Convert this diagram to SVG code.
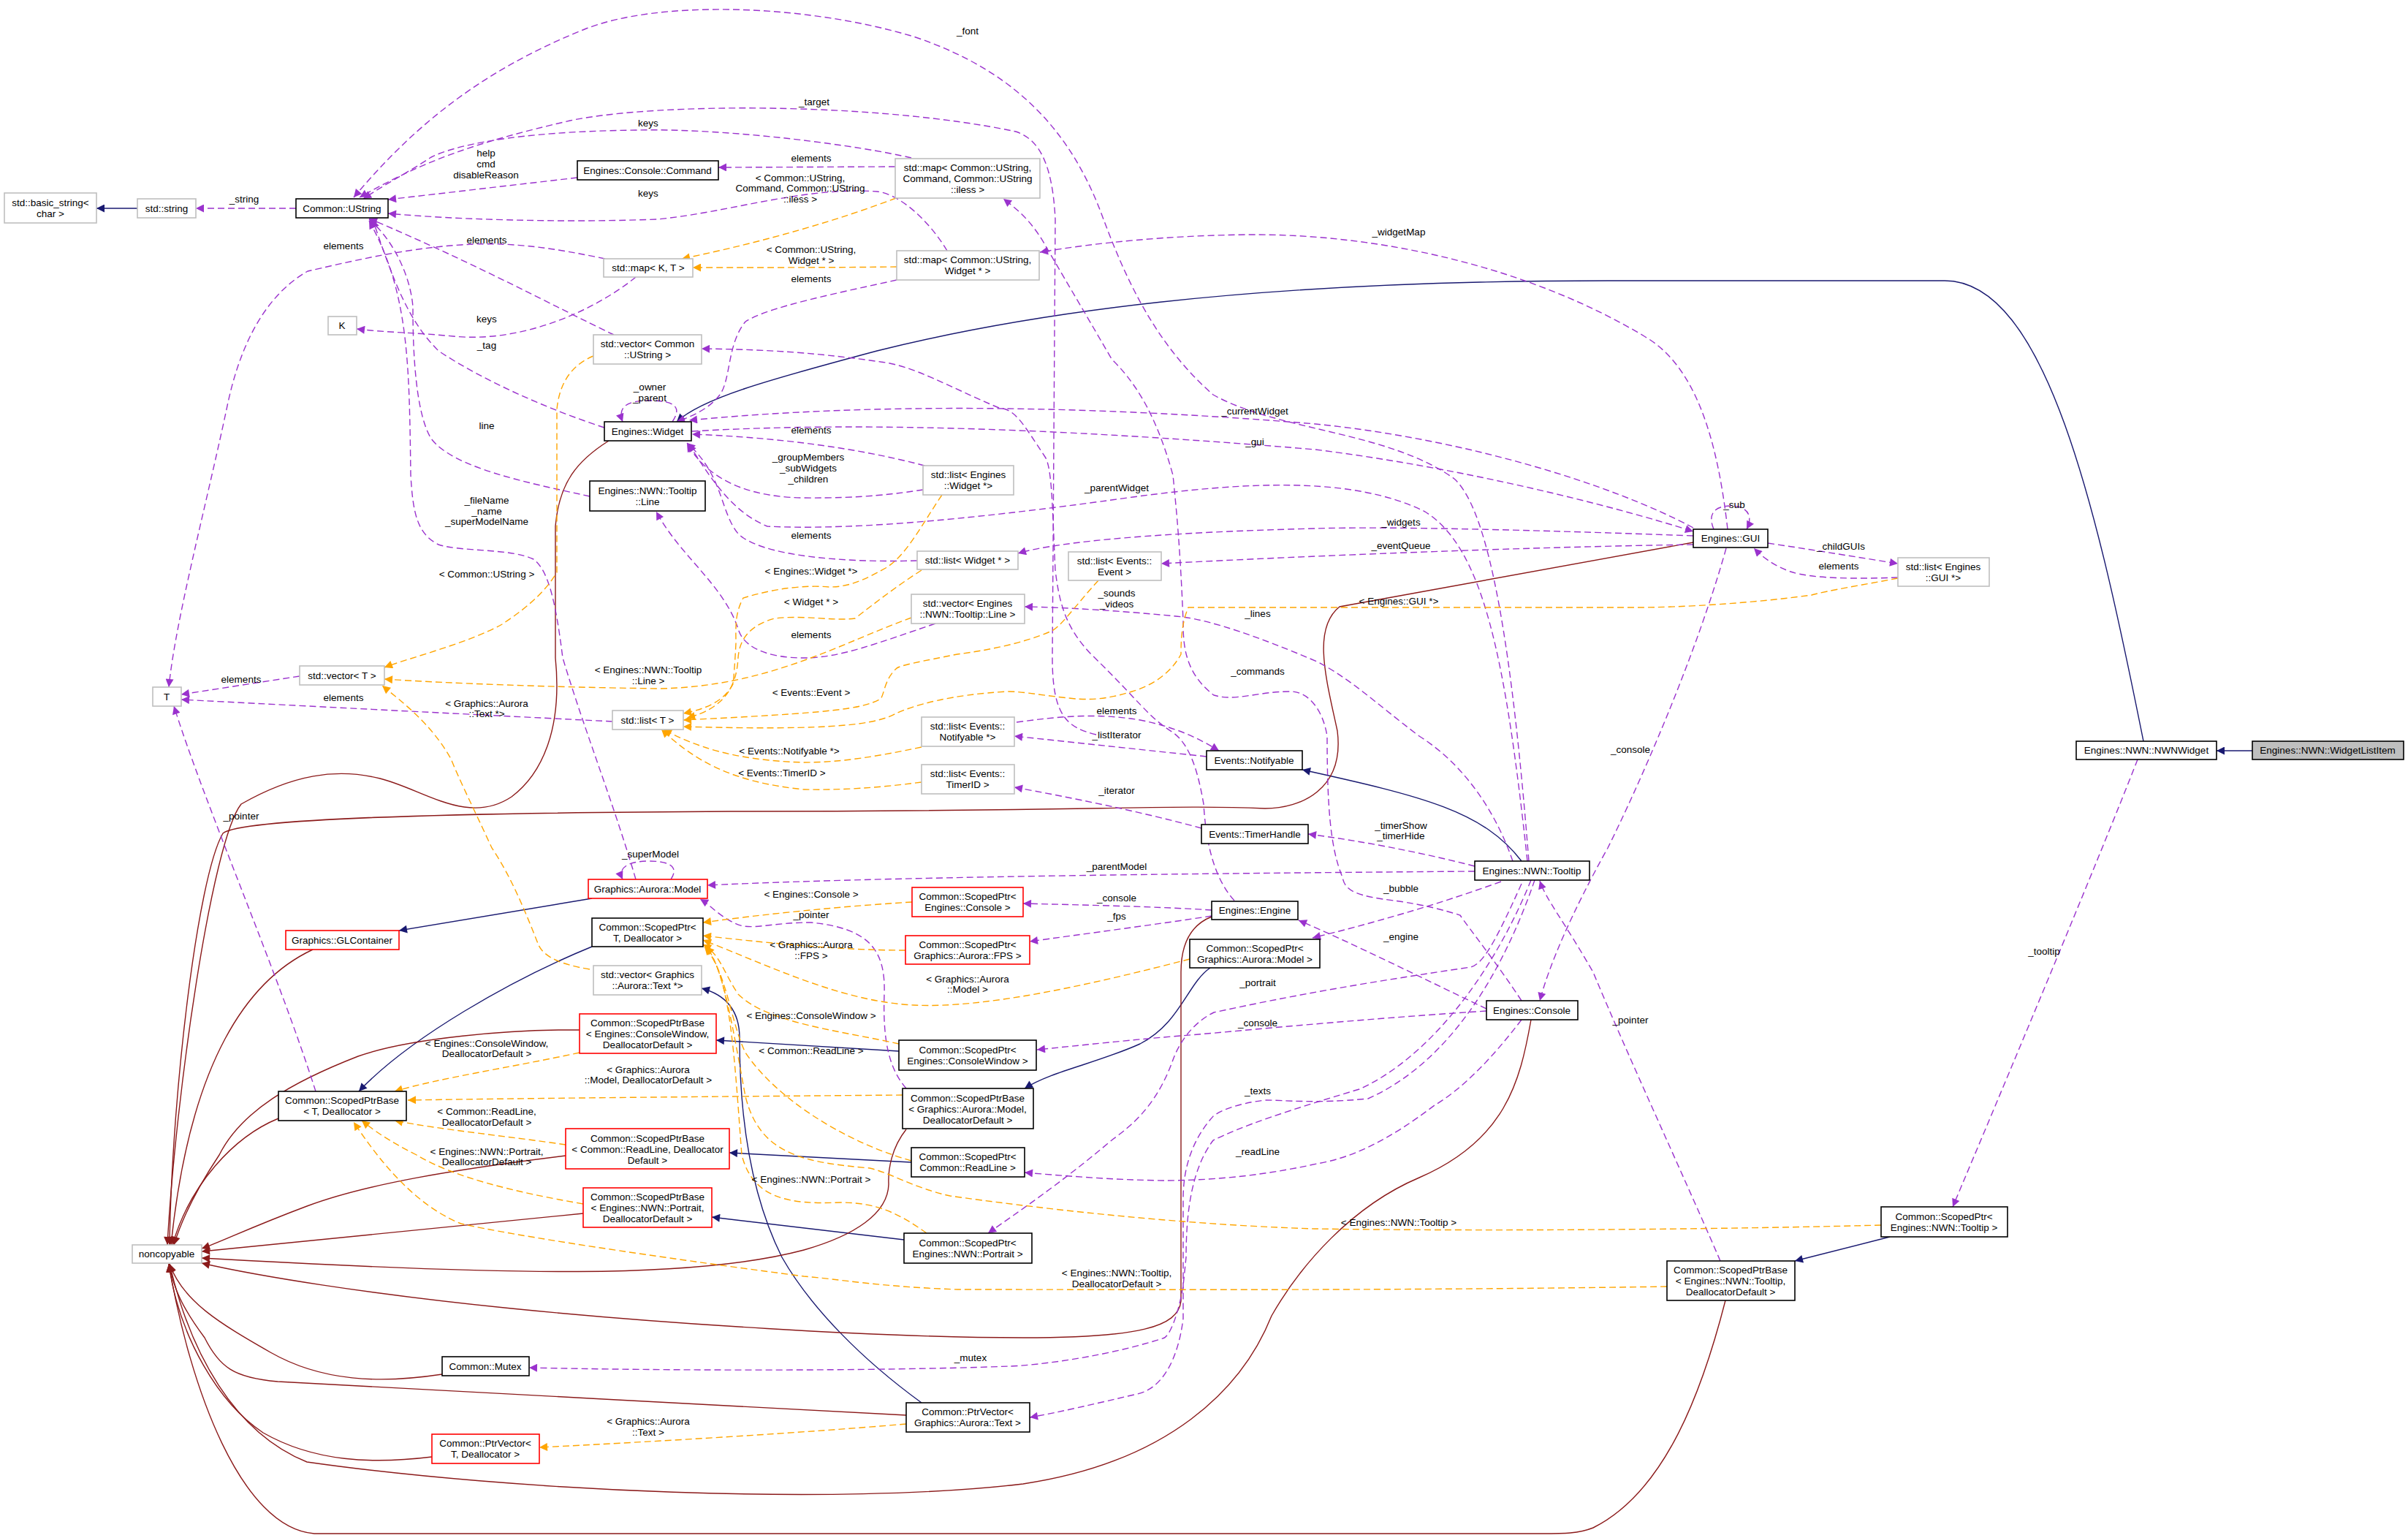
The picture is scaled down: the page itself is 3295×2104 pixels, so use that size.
<svg xmlns="http://www.w3.org/2000/svg" width="3295" height="2104" viewBox="0 0 3295 2104">
<style>
text{font-family:"Liberation Sans",Arial,sans-serif;font-size:13.5px;fill:#000}
.n text{text-anchor:middle}
.nb{fill:#fff;stroke:#000;stroke-width:1.6}
.ng{fill:#fff;stroke:#bfbfbf;stroke-width:1.6}
.nr{fill:#fff;stroke:#ff0000;stroke-width:1.6}
.ns{fill:#bfbfbf;stroke:#000;stroke-width:1.6}
.p{fill:none;stroke:#9a32cd;stroke-width:1.4;stroke-dasharray:9,5;marker-end:url(#ap)}
.o{fill:none;stroke:#ffa500;stroke-width:1.4;stroke-dasharray:9,5;marker-end:url(#ao)}
.b{fill:none;stroke:#191970;stroke-width:1.4;marker-end:url(#ab)}
.r{fill:none;stroke:#8b1a1a;stroke-width:1.4;marker-end:url(#ar)}
.l text{text-anchor:middle}
</style>
<defs>
<marker id="ap" viewBox="0 0 10 10" refX="10" refY="5" markerWidth="15" markerHeight="11" markerUnits="userSpaceOnUse" orient="auto"><path d="M0,0L10,5L0,10z" fill="#9a32cd"/></marker>
<marker id="ao" viewBox="0 0 10 10" refX="10" refY="5" markerWidth="15" markerHeight="11" markerUnits="userSpaceOnUse" orient="auto"><path d="M0,0L10,5L0,10z" fill="#ffa500"/></marker>
<marker id="ab" viewBox="0 0 10 10" refX="10" refY="5" markerWidth="15" markerHeight="11" markerUnits="userSpaceOnUse" orient="auto"><path d="M0,0L10,5L0,10z" fill="#191970"/></marker>
<marker id="ar" viewBox="0 0 10 10" refX="10" refY="5" markerWidth="15" markerHeight="11" markerUnits="userSpaceOnUse" orient="auto"><path d="M0,0L10,5L0,10z" fill="#8b1a1a"/></marker>
</defs>
<rect width="3295" height="2104" fill="#fff"/>
<g id="edges">
<!-- navy -->
<path class="b" d="M188,285L132,285"/>
<path class="b" d="M2933,1014C2870,700 2800,384 2661,384L2200,384C1700,384 1400,430 1200,480C1050,520 960,545 926,577"/>
<path class="b" d="M3082,1027L3033,1027"/>
<path class="b" d="M2082,1178C2030,1110 1950,1090 1782,1053"/>
<path class="b" d="M810,1229L546,1273"/>
<path class="b" d="M810,1295C700,1340 560,1420 491,1493"/>
<path class="b" d="M1230,1438L980,1423"/>
<path class="b" d="M1247,1590L998,1577"/>
<path class="b" d="M1237,1696L974,1665"/>
<path class="b" d="M1656,1324C1625,1345 1615,1400 1560,1428C1500,1455 1440,1465 1402,1489"/>
<path class="b" d="M2586,1692L2456,1725"/>
<path class="b" d="M1261,1919C1180,1860 1110,1790 1070,1720C1020,1620 1012,1500 1012,1420C1012,1380 990,1360 960,1352"/>
<!-- dark red -->
<path class="r" d="M833,603C790,630 765,660 760,720L760,900C770,1000 740,1060 700,1090C640,1130 580,1080 520,1065C460,1050 400,1060 330,1100C290,1150 240,1500 229,1703"/>
<path class="r" d="M2317,742L1833,830C1795,860 1815,930 1830,1000C1840,1080 1780,1106 1731,1106C1600,1100 1500,1110 1000,1110C600,1112 330,1120 305,1140C270,1200 235,1500 232,1703"/>
<path class="r" d="M428,1299C340,1340 260,1450 234,1703"/>
<path class="r" d="M381,1530C320,1555 260,1620 236,1703"/>
<path class="r" d="M793,1409C700,1408 560,1420 490,1445C400,1480 330,1520 300,1580C260,1640 245,1680 238,1703"/>
<path class="r" d="M774,1581C620,1600 500,1620 420,1650C340,1680 300,1700 276,1708"/>
<path class="r" d="M798,1660L276,1712"/>
<path class="r" d="M1240,1545C1220,1570 1215,1600 1216,1620C1215,1660 1170,1690 1100,1710C950,1750 700,1745 276,1721"/>
<path class="r" d="M1658,1254C1630,1265 1616,1290 1616,1330L1616,1780C1612,1815 1560,1830 1400,1830C1200,1830 900,1810 700,1790C500,1770 350,1745 276,1728"/>
<path class="r" d="M605,1880C520,1893 440,1890 370,1850C300,1810 250,1780 232,1729"/>
<path class="r" d="M1240,1936C1000,1925 600,1900 380,1890C320,1885 300,1870 280,1830C250,1790 236,1760 232,1729"/>
<path class="r" d="M591,1993C510,2003 430,2000 360,1960C300,1920 245,1830 231,1729"/>
<path class="r" d="M2095,1395C2080,1480 2060,1560 1942,1611C1850,1650 1780,1730 1740,1800C1700,1900 1600,2000 1400,2030C1150,2060 700,2040 420,2000C320,1960 260,1850 232,1729"/>
<path class="r" d="M2361,1779C2330,1900 2280,2040 2180,2090C2160,2098 2140,2098 2110,2098L430,2098C330,2090 260,1900 231,1729"/>
<!-- purple -->
<path class="p" d="M405,285L268,285"/>
<path class="p" d="M790,243L531,273"/>
<path class="p" d="M1247,216C1180,200 1000,175 870,178C700,180 620,200 590,215C560,235 530,250 497,272"/>
<path class="p" d="M1296,343C1270,300 1230,265 1200,262C1100,255 1000,290 900,300C760,305 620,300 531,292"/>
<path class="p" d="M1225,228L983,229"/>
<path class="p" d="M1227,383C1150,400 1050,420 1020,440C995,470 1000,520 985,540C970,560 945,570 926,577"/>
<path class="p" d="M828,354C760,340 700,330 631,335C550,340 470,360 421,371C370,400 330,460 310,560C280,700 240,850 231,940"/>
<path class="p" d="M870,379C820,420 720,470 620,460C570,455 530,455 488,450"/>
<path class="p" d="M840,458C760,420 650,360 505,299"/>
<path class="p" d="M827,585C750,560 660,520 600,480C560,440 540,390 510,300"/>
<path class="p" d="M807,679C720,660 620,640 590,600C565,560 565,450 565,420C562,380 540,330 505,300"/>
<path class="p" d="M870,1203C840,1100 800,1000 770,900C760,820 750,780 730,765C700,750 630,755 600,745C570,730 565,700 562,650C560,500 560,400 505,302"/>
<path class="p" d="M920,577C935,555 920,548 888,548C856,548 845,558 852,577"/>
<path class="p" d="M410,925L248,950"/>
<path class="p" d="M838,987C700,980 400,965 248,957"/>
<path class="p" d="M1263,670C1230,675 1180,682 1100,681C1000,680 960,640 940,607"/>
<path class="p" d="M1265,637C1200,620 1100,600 947,594"/>
<path class="p" d="M1255,767C1150,770 1040,760 1010,730C985,700 990,650 940,606"/>
<path class="p" d="M1280,853C1200,880 1150,900 1100,900C1040,900 1015,880 1010,860C990,800 930,760 898,700"/>
<path class="p" d="M2317,733C2100,725 1900,720 1800,723C1600,728 1450,740 1393,757"/>
<path class="p" d="M2317,745C2100,748 1800,760 1589,771"/>
<path class="p" d="M947,590C1200,575 1500,590 1800,615C2000,640 2200,690 2317,727"/>
<path class="p" d="M2317,722C2200,660 2000,600 1800,580C1500,555 1200,550 943,575"/>
<path class="p" d="M2090,1178C2060,900 2030,750 1950,700C1850,650 1700,660 1550,680C1300,715 1150,725 1050,720C1000,700 970,650 942,607"/>
<path class="p" d="M2092,1178C2070,900 2040,700 1990,655C1900,590 1750,590 1660,540C1580,470 1540,380 1510,300C1470,190 1400,100 1250,50C1100,5 900,0 800,40C650,100 560,180 484,270"/>
<path class="p" d="M1500,1005C1460,995 1440,980 1440,900L1444,300C1440,220 1420,190 1390,180C1200,140 900,140 780,165C650,195 580,220 492,270"/>
<path class="p" d="M2364,724C2350,600 2320,500 2250,460C2100,370 1900,320 1710,321C1600,322 1500,332 1423,345"/>
<path class="p" d="M2345,724C2335,700 2350,692 2368,692C2390,692 2400,705 2390,724"/>
<path class="p" d="M2419,743C2480,752 2540,762 2597,771"/>
<path class="p" d="M2597,790C2540,792 2480,792 2450,782C2430,775 2415,765 2400,750"/>
<path class="p" d="M2362,750C2320,900 2240,1080 2200,1160C2150,1250 2120,1320 2107,1369"/>
<path class="p" d="M2925,1039C2870,1180 2740,1490 2672,1651"/>
<path class="p" d="M2354,1725C2300,1600 2230,1450 2180,1330C2140,1260 2115,1230 2107,1205"/>
<path class="p" d="M432,1493C380,1330 280,1100 238,966"/>
<path class="p" d="M1240,1489C1215,1460 1208,1420 1210,1360C1212,1300 1190,1270 1110,1262C1060,1262 1040,1270 1017,1267C990,1260 975,1240 958,1230"/>
<path class="p" d="M918,1203C930,1185 915,1178 888,1178C858,1178 845,1188 852,1203"/>
<path class="p" d="M2018,1192C1600,1195 1200,1200 968,1211"/>
<path class="p" d="M1658,1245C1580,1240 1480,1238 1400,1236"/>
<path class="p" d="M1658,1253C1580,1265 1480,1278 1409,1288"/>
<path class="p" d="M2054,1206C1960,1240 1870,1265 1796,1283"/>
<path class="p" d="M2034,1380C1950,1340 1850,1290 1777,1259"/>
<path class="p" d="M2082,1209C2050,1280 2030,1320 2012,1323C1900,1340 1800,1355 1661,1385C1630,1400 1612,1430 1605,1450C1580,1520 1540,1545 1521,1560C1450,1620 1390,1660 1352,1687"/>
<path class="p" d="M2034,1383C1850,1395 1700,1410 1640,1415C1550,1422 1480,1430 1419,1436"/>
<path class="p" d="M2082,1395C2040,1450 2000,1490 1963,1512C1900,1560 1850,1584 1802,1592C1720,1610 1650,1615 1591,1615C1520,1614 1450,1608 1402,1604"/>
<path class="p" d="M2100,1204C2060,1320 1990,1450 1872,1503C1800,1510 1760,1505 1731,1505C1690,1510 1670,1520 1661,1526C1630,1560 1619,1600 1619,1640L1619,1804C1612,1860 1590,1900 1556,1907C1500,1920 1450,1932 1409,1939"/>
<path class="p" d="M2095,1204C2040,1340 1950,1450 1860,1490C1760,1520 1700,1540 1660,1560C1630,1600 1623,1660 1623,1720L1619,1759C1612,1800 1600,1830 1591,1831C1500,1860 1400,1869 1381,1869C1200,1876 900,1875 724,1871"/>
<path class="p" d="M2018,1185C1940,1165 1860,1150 1790,1141"/>
<path class="p" d="M1644,1133C1560,1110 1460,1090 1388,1077"/>
<path class="p" d="M1391,988C1450,980 1500,975 1560,985C1610,995 1640,1010 1668,1027"/>
<path class="p" d="M1651,1035L1388,1007"/>
<path class="p" d="M2070,1178C2050,1120 2010,1050 1942,1007C1880,960 1850,930 1802,905C1720,870 1660,850 1619,844C1540,836 1460,831 1402,830"/>
<path class="p" d="M2082,1369C2050,1320 2010,1270 1998,1252C1960,1240 1930,1235 1907,1232C1860,1226 1840,1220 1837,1200C1820,1160 1816,1100 1816,1007C1810,970 1790,946 1766,946C1720,946 1690,960 1661,951C1620,920 1619,880 1619,850C1615,750 1610,700 1605,650C1580,560 1550,520 1521,491C1480,420 1450,370 1430,335C1410,300 1390,285 1373,272"/>
<path class="p" d="M1689,1232C1660,1200 1650,1150 1647,1100C1640,1060 1630,1020 1605,1002C1570,980 1560,960 1493,895C1460,860 1450,830 1444,780C1440,700 1440,640 1430,625C1400,580 1390,560 1367,558C1300,530 1250,500 1205,495C1100,480 1030,478 960,477"/>
<!-- orange -->
<path class="o" d="M1226,271C1150,300 1050,330 933,354"/>
<path class="o" d="M1227,365C1150,366 1050,366 948,366"/>
<path class="o" d="M812,487C780,500 765,527 762,560L762,783C740,820 700,845 687,854C640,880 560,900 526,913"/>
<path class="o" d="M1247,845C1150,880 1050,940 900,942C750,940 620,935 526,929"/>
<path class="o" d="M807,1326C770,1320 745,1310 737,1293C720,1250 700,1200 673,1160C650,1110 630,1070 617,1038C590,990 550,960 523,938"/>
<path class="o" d="M1289,677C1260,720 1240,760 1212,777C1180,795 1160,803 1135,803C1100,800 1060,805 1017,818C1005,840 1007,860 1007,880C1005,920 1003,936 1003,936C990,960 965,970 935,976"/>
<path class="o" d="M1261,780C1230,800 1210,815 1170,846C1140,850 1100,841 1060,846C1031,854 1012,870 1010,900C1008,940 990,970 940,982"/>
<path class="o" d="M1503,794C1470,830 1450,860 1437,864C1400,880 1350,890 1310,895C1260,905 1230,910 1226,915C1210,930 1210,950 1205,956C1180,970 1140,975 935,985"/>
<path class="o" d="M2597,791C2550,800 2500,808 2479,814C2400,825 2300,831 2242,831L1626,831C1618,850 1616,870 1616,895C1600,925 1570,940 1549,946C1510,958 1490,957 1472,956C1430,952 1400,946 1380,946C1300,950 1250,965 1226,976C1200,990 1150,1000 935,994"/>
<path class="o" d="M1261,1022C1200,1035 1150,1043 1100,1043C1000,1040 950,1020 908,998"/>
<path class="o" d="M1261,1070C1200,1078 1150,1081 1100,1080C1000,1070 950,1040 905,998"/>
<path class="o" d="M1248,1234C1150,1240 1050,1250 962,1262"/>
<path class="o" d="M1239,1300C1150,1300 1050,1290 962,1280"/>
<path class="o" d="M1628,1312C1500,1345 1350,1380 1250,1375C1150,1370 1050,1320 962,1286"/>
<path class="o" d="M1230,1428C1150,1410 1050,1400 1010,1360C990,1330 985,1305 962,1292"/>
<path class="o" d="M1247,1588C1150,1560 1060,1500 1020,1440C1000,1400 995,1330 964,1295"/>
<path class="o" d="M1268,1687C1230,1660 1200,1645 1150,1645C1080,1648 1030,1640 1015,1580C1005,1450 1000,1330 964,1295"/>
<path class="o" d="M2574,1676C2300,1683 2000,1684 1800,1681C1600,1675 1400,1650 1300,1636C1250,1625 1220,1605 1190,1598C1100,1590 1040,1580 1020,1500C1005,1420 990,1320 966,1295"/>
<path class="o" d="M793,1440C700,1460 600,1475 540,1493"/>
<path class="o" d="M1235,1498C1000,1500 750,1502 558,1505"/>
<path class="o" d="M774,1566C700,1555 600,1545 540,1533"/>
<path class="o" d="M798,1647C700,1630 620,1610 570,1580C530,1560 510,1545 495,1533"/>
<path class="o" d="M2281,1760C1900,1766 1500,1764 1310,1764C1200,1760 1150,1750 1100,1746C900,1720 700,1690 631,1674C570,1650 520,1590 484,1535"/>
<path class="o" d="M1240,1948C1100,1960 900,1972 738,1980"/>
</g>
<g class="l">
<text x="334" y="277">_string</text>
<text x="665" y="214">help</text><text x="665" y="229">cmd</text><text x="665" y="244">disableReason</text>
<text x="887" y="173">keys</text>
<text x="887" y="269">keys</text>
<text x="1110" y="221">elements</text>
<text x="1095" y="248">&lt; Common::UString,</text><text x="1095" y="262">Command, Common::UString</text><text x="1095" y="277">::iless &gt;</text>
<text x="1110" y="346">&lt; Common::UString,</text><text x="1110" y="361">Widget * &gt;</text>
<text x="1110" y="386">elements</text>
<text x="470" y="341">elements</text>
<text x="666" y="333">elements</text>
<text x="666" y="441">keys</text>
<text x="666" y="477">_tag</text>
<text x="889" y="534">_owner</text><text x="889" y="549">_parent</text>
<text x="666" y="587">line</text>
<text x="1110" y="593">elements</text>
<text x="1106" y="630">_groupMembers</text><text x="1106" y="645">_subWidgets</text><text x="1106" y="660">_children</text>
<text x="666" y="689">_fileName</text><text x="666" y="704">_name</text><text x="666" y="718">_superModelName</text>
<text x="1324" y="47">_font</text>
<text x="1114" y="144">_target</text>
<text x="1914" y="322">_widgetMap</text>
<text x="1717" y="567">_currentWidget</text>
<text x="1717" y="609">_gui</text>
<text x="1528" y="672">_parentWidget</text>
<text x="1917" y="719">_widgets</text>
<text x="2373" y="695">_sub</text>
<text x="1110" y="737">elements</text>
<text x="1917" y="751">_eventQueue</text>
<text x="2519" y="752">_childGUIs</text>
<text x="2516" y="779">elements</text>
<text x="666" y="790">&lt; Common::UString &gt;</text>
<text x="1110" y="786">&lt; Engines::Widget *&gt;</text>
<text x="1528" y="816">_sounds</text><text x="1528" y="831">_videos</text>
<text x="1914" y="827">&lt; Engines::GUI *&gt;</text>
<text x="1110" y="828">&lt; Widget * &gt;</text>
<text x="1721" y="844">_lines</text>
<text x="1110" y="873">elements</text>
<text x="887" y="921">&lt; Engines::NWN::Tooltip</text><text x="887" y="936">::Line &gt;</text>
<text x="1721" y="923">_commands</text>
<text x="330" y="934">elements</text>
<text x="1110" y="952">&lt; Events::Event &gt;</text>
<text x="470" y="959">elements</text>
<text x="666" y="967">&lt; Graphics::Aurora</text><text x="666" y="981">::Text *&gt;</text>
<text x="1528" y="977">elements</text>
<text x="1528" y="1010">_listIterator</text>
<text x="1080" y="1032">&lt; Events::Notifyable *&gt;</text>
<text x="2231" y="1030">_console</text>
<text x="1070" y="1062">&lt; Events::TimerID &gt;</text>
<text x="1528" y="1086">_iterator</text>
<text x="330" y="1121">_pointer</text>
<text x="1917" y="1134">_timerShow</text><text x="1917" y="1148">_timerHide</text>
<text x="890" y="1173">_superModel</text>
<text x="1528" y="1190">_parentModel</text>
<text x="1917" y="1220">_bubble</text>
<text x="1110" y="1228">&lt; Engines::Console &gt;</text>
<text x="1528" y="1233">_console</text>
<text x="1110" y="1256">_pointer</text>
<text x="1528" y="1258">_fps</text>
<text x="1917" y="1286">_engine</text>
<text x="1110" y="1297">&lt; Graphics::Aurora</text><text x="1110" y="1312">::FPS &gt;</text>
<text x="2797" y="1306">_tooltip</text>
<text x="1324" y="1344">&lt; Graphics::Aurora</text><text x="1324" y="1358">::Model &gt;</text>
<text x="1721" y="1349">_portrait</text>
<text x="1110" y="1394">&lt; Engines::ConsoleWindow &gt;</text>
<text x="2231" y="1400">_pointer</text>
<text x="1721" y="1404">_console</text>
<text x="666" y="1432">&lt; Engines::ConsoleWindow,</text><text x="666" y="1446">DeallocatorDefault &gt;</text>
<text x="1110" y="1442">&lt; Common::ReadLine &gt;</text>
<text x="887" y="1468">&lt; Graphics::Aurora</text><text x="887" y="1482">::Model, DeallocatorDefault &gt;</text>
<text x="1721" y="1497">_texts</text>
<text x="666" y="1525">&lt; Common::ReadLine,</text><text x="666" y="1540">DeallocatorDefault &gt;</text>
<text x="1721" y="1580">_readLine</text>
<text x="666" y="1580">&lt; Engines::NWN::Portrait,</text><text x="666" y="1594">DeallocatorDefault &gt;</text>
<text x="1110" y="1618">&lt; Engines::NWN::Portrait &gt;</text>
<text x="1914" y="1677">&lt; Engines::NWN::Tooltip &gt;</text>
<text x="1528" y="1746">&lt; Engines::NWN::Tooltip,</text><text x="1528" y="1761">DeallocatorDefault &gt;</text>
<text x="1328" y="1862">_mutex</text>
<text x="887" y="1949">&lt; Graphics::Aurora</text><text x="887" y="1964">::Text &gt;</text>
</g>
<g class="n" id="basic_string"><rect class="ng" x="6" y="264" width="126" height="41"/><text x="69" y="282">std::basic_string&lt;</text><text x="69" y="297">char &gt;</text></g>
<g class="n" id="std_string"><rect class="ng" x="188" y="272" width="80" height="26"/><text x="228" y="290">std::string</text></g>
<g class="n" id="UString"><rect class="nb" x="405" y="272" width="126" height="26"/><text x="468" y="290">Common::UString</text></g>
<g class="n" id="Command"><rect class="nb" x="790" y="220" width="193" height="26"/><text x="886" y="238">Engines::Console::Command</text></g>
<g class="n" id="mapKT"><rect class="ng" x="826" y="354" width="122" height="25"/><text x="887" y="371">std::map&lt; K, T &gt;</text></g>
<g class="n" id="K"><rect class="ng" x="449" y="433" width="39" height="25"/><text x="468" y="450">K</text></g>
<g class="n" id="vecUString"><rect class="ng" x="812" y="458" width="148" height="40"/><text x="886" y="475">std::vector&lt; Common</text><text x="886" y="490">::UString &gt;</text></g>
<g class="n" id="Widget"><rect class="nb" x="827" y="577" width="119" height="26"/><text x="886" y="595">Engines::Widget</text></g>
<g class="n" id="TooltipLine"><rect class="nb" x="807" y="658" width="158" height="41"/><text x="886" y="676">Engines::NWN::Tooltip</text><text x="886" y="691">::Line</text></g>
<g class="n" id="mapCmd"><rect class="ng" x="1225" y="217" width="198" height="54"/><text x="1324" y="234">std::map&lt; Common::UString,</text><text x="1324" y="249">Command, Common::UString</text><text x="1324" y="264">::iless &gt;</text></g>
<g class="n" id="mapWidget"><rect class="ng" x="1227" y="343" width="195" height="40"/><text x="1324" y="360">std::map&lt; Common::UString,</text><text x="1324" y="375">Widget * &gt;</text></g>
<g class="n" id="listEngWidget"><rect class="ng" x="1263" y="637" width="124" height="40"/><text x="1325" y="654">std::list&lt; Engines</text><text x="1325" y="669">::Widget *&gt;</text></g>
<g class="n" id="GUI"><rect class="nb" x="2317" y="724" width="102" height="25"/><text x="2368" y="741">Engines::GUI</text></g>
<g class="n" id="listGUI"><rect class="ng" x="2597" y="763" width="125" height="39"/><text x="2659" y="780">std::list&lt; Engines</text><text x="2659" y="795">::GUI *&gt;</text></g>
<g class="n" id="NWNWidget"><rect class="nb" x="2841" y="1014" width="192" height="25"/><text x="2937" y="1031">Engines::NWN::NWNWidget</text></g>
<g class="n" id="WidgetListItem"><rect class="ns" x="3082" y="1014" width="207" height="25"/><text x="3185" y="1031">Engines::NWN::WidgetListItem</text></g>
<g class="n" id="vecT"><rect class="ng" x="410" y="911" width="116" height="26"/><text x="468" y="929">std::vector&lt; T &gt;</text></g>
<g class="n" id="T"><rect class="ng" x="209" y="940" width="39" height="26"/><text x="228" y="958">T</text></g>
<g class="n" id="listT"><rect class="ng" x="838" y="972" width="97" height="26"/><text x="886" y="990">std::list&lt; T &gt;</text></g>
<g class="n" id="Model"><rect class="nr" x="805" y="1203" width="163" height="26"/><text x="886" y="1221">Graphics::Aurora::Model</text></g>
<g class="n" id="GLContainer"><rect class="nr" x="391" y="1273" width="155" height="26"/><text x="468" y="1291">Graphics::GLContainer</text></g>
<g class="n" id="ScopedPtrTD"><rect class="nb" x="810" y="1256" width="152" height="39"/><text x="886" y="1273">Common::ScopedPtr&lt;</text><text x="886" y="1288">T, Deallocator &gt;</text></g>
<g class="n" id="vecText"><rect class="ng" x="812" y="1321" width="148" height="40"/><text x="886" y="1338">std::vector&lt; Graphics</text><text x="886" y="1353">::Aurora::Text *&gt;</text></g>
<g class="n" id="SPBConsoleWindow"><rect class="nr" x="793" y="1387" width="187" height="54"/><text x="886" y="1404">Common::ScopedPtrBase</text><text x="886" y="1419">&lt; Engines::ConsoleWindow,</text><text x="886" y="1434">DeallocatorDefault &gt;</text></g>
<g class="n" id="listWidgetPtr"><rect class="ng" x="1255" y="754" width="138" height="25"/><text x="1324" y="771">std::list&lt; Widget * &gt;</text></g>
<g class="n" id="listEvent"><rect class="ng" x="1462" y="755" width="127" height="39"/><text x="1525" y="772">std::list&lt; Events::</text><text x="1525" y="787">Event &gt;</text></g>
<g class="n" id="vecTooltipLine"><rect class="ng" x="1247" y="813" width="155" height="40"/><text x="1324" y="830">std::vector&lt; Engines</text><text x="1324" y="845">::NWN::Tooltip::Line &gt;</text></g>
<g class="n" id="listNotifyable"><rect class="ng" x="1261" y="981" width="127" height="40"/><text x="1324" y="998">std::list&lt; Events::</text><text x="1324" y="1013">Notifyable *&gt;</text></g>
<g class="n" id="listTimerID"><rect class="ng" x="1261" y="1046" width="127" height="40"/><text x="1324" y="1063">std::list&lt; Events::</text><text x="1324" y="1078">TimerID &gt;</text></g>
<g class="n" id="Notifyable"><rect class="nb" x="1651" y="1027" width="131" height="26"/><text x="1716" y="1045">Events::Notifyable</text></g>
<g class="n" id="TimerHandle"><rect class="nb" x="1644" y="1128" width="146" height="26"/><text x="1717" y="1146">Events::TimerHandle</text></g>
<g class="n" id="Tooltip"><rect class="nb" x="2018" y="1178" width="157" height="26"/><text x="2096" y="1196">Engines::NWN::Tooltip</text></g>
<g class="n" id="SPConsole"><rect class="nr" x="1248" y="1214" width="152" height="40"/><text x="1324" y="1231">Common::ScopedPtr&lt;</text><text x="1324" y="1246">Engines::Console &gt;</text></g>
<g class="n" id="SPFPS"><rect class="nr" x="1239" y="1280" width="170" height="39"/><text x="1324" y="1297">Common::ScopedPtr&lt;</text><text x="1324" y="1312">Graphics::Aurora::FPS &gt;</text></g>
<g class="n" id="Engine"><rect class="nb" x="1658" y="1233" width="118" height="25"/><text x="1717" y="1250">Engines::Engine</text></g>
<g class="n" id="SPModel"><rect class="nb" x="1628" y="1285" width="178" height="39"/><text x="1717" y="1302">Common::ScopedPtr&lt;</text><text x="1717" y="1317">Graphics::Aurora::Model &gt;</text></g>
<g class="n" id="Console"><rect class="nb" x="2034" y="1369" width="125" height="26"/><text x="2096" y="1387">Engines::Console</text></g>
<g class="n" id="SPConsoleWindow"><rect class="nb" x="1230" y="1423" width="188" height="41"/><text x="1324" y="1441">Common::ScopedPtr&lt;</text><text x="1324" y="1456">Engines::ConsoleWindow &gt;</text></g>
<g class="n" id="SPBTD"><rect class="nb" x="381" y="1493" width="175" height="40"/><text x="468" y="1510">Common::ScopedPtrBase</text><text x="468" y="1525">&lt; T, Deallocator &gt;</text></g>
<g class="n" id="SPBReadLine"><rect class="nr" x="774" y="1544" width="224" height="55"/><text x="886" y="1562">Common::ScopedPtrBase</text><text x="886" y="1577">&lt; Common::ReadLine, Deallocator</text><text x="886" y="1592">Default &gt;</text></g>
<g class="n" id="SPBPortrait"><rect class="nr" x="798" y="1625" width="176" height="54"/><text x="886" y="1642">Common::ScopedPtrBase</text><text x="886" y="1657">&lt; Engines::NWN::Portrait,</text><text x="886" y="1672">DeallocatorDefault &gt;</text></g>
<g class="n" id="noncopyable"><rect class="ng" x="181" y="1703" width="95" height="25"/><text x="228" y="1720">noncopyable</text></g>
<g class="n" id="Mutex"><rect class="nb" x="605" y="1856" width="119" height="26"/><text x="664" y="1874">Common::Mutex</text></g>
<g class="n" id="PtrVectorTD"><rect class="nr" x="591" y="1962" width="147" height="40"/><text x="664" y="1979">Common::PtrVector&lt;</text><text x="664" y="1994">T, Deallocator &gt;</text></g>
<g class="n" id="SPBModel"><rect class="nb" x="1235" y="1489" width="179" height="55"/><text x="1324" y="1507">Common::ScopedPtrBase</text><text x="1324" y="1522">&lt; Graphics::Aurora::Model,</text><text x="1324" y="1537">DeallocatorDefault &gt;</text></g>
<g class="n" id="SPReadLine"><rect class="nb" x="1247" y="1570" width="155" height="40"/><text x="1324" y="1587">Common::ScopedPtr&lt;</text><text x="1324" y="1602">Common::ReadLine &gt;</text></g>
<g class="n" id="SPPortrait"><rect class="nb" x="1237" y="1687" width="175" height="41"/><text x="1324" y="1705">Common::ScopedPtr&lt;</text><text x="1324" y="1720">Engines::NWN::Portrait &gt;</text></g>
<g class="n" id="PtrVectorText"><rect class="nb" x="1240" y="1919" width="169" height="40"/><text x="1324" y="1936">Common::PtrVector&lt;</text><text x="1324" y="1951">Graphics::Aurora::Text &gt;</text></g>
<g class="n" id="SPTooltip"><rect class="nb" x="2574" y="1651" width="173" height="41"/><text x="2660" y="1669">Common::ScopedPtr&lt;</text><text x="2660" y="1684">Engines::NWN::Tooltip &gt;</text></g>
<g class="n" id="SPBTooltip"><rect class="nb" x="2281" y="1725" width="175" height="54"/><text x="2368" y="1742">Common::ScopedPtrBase</text><text x="2368" y="1757">&lt; Engines::NWN::Tooltip,</text><text x="2368" y="1772">DeallocatorDefault &gt;</text></g>
</svg>
